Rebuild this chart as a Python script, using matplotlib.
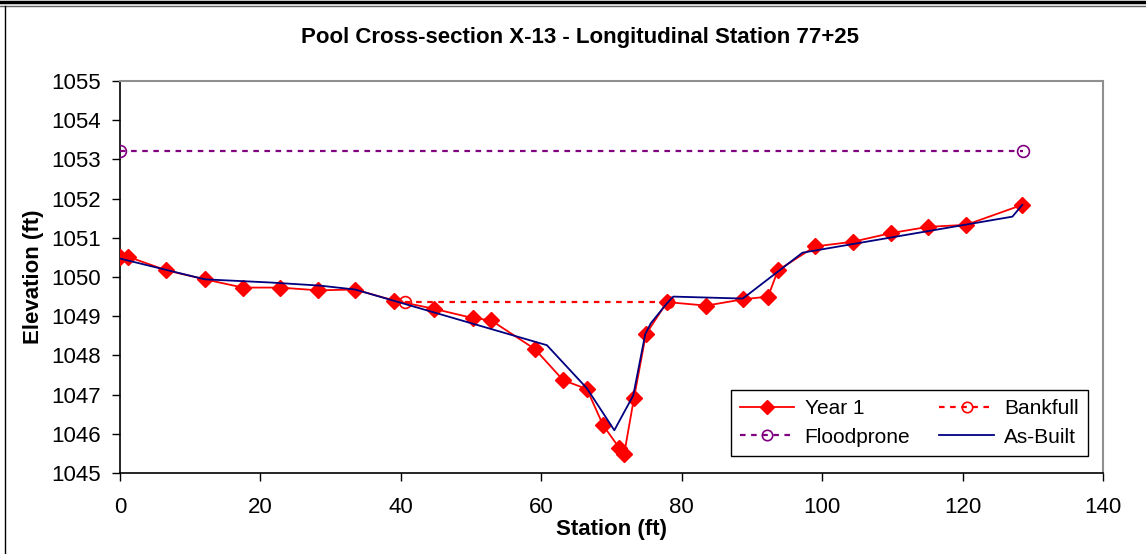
import matplotlib
matplotlib.use("Agg")
import numpy as np
from matplotlib import pyplot as plt
from matplotlib.lines import Line2D

plt.rcParams['font.family'] = ['Liberation Sans', 'DejaVu Sans']

# Year 1 survey
year1_x = [0.0, 1.1, 6.6, 12.1, 17.5, 22.8, 28.2, 33.5, 39.0, 44.7, 50.3, 52.8,
           59.1, 63.1, 66.5, 68.8, 71.1, 71.8, 73.2, 74.9, 77.9, 83.5, 88.7,
           92.3, 93.7, 99.0, 104.4, 109.8, 115.1, 120.5, 128.5]
year1_y = [1050.50, 1050.52, 1050.17, 1049.94, 1049.73, 1049.73, 1049.66, 1049.68,
           1049.40, 1049.19, 1048.95, 1048.90, 1048.16, 1047.37, 1047.14, 1046.22,
           1045.64, 1045.48, 1046.91, 1048.54, 1049.36, 1049.27, 1049.43, 1049.50,
           1050.17, 1050.78, 1050.90, 1051.12, 1051.28, 1051.33, 1051.84]

# As-built survey
asbuilt_x = [0.0, 12.1, 21.4, 28.5, 33.5, 60.8, 66.5, 70.4, 73.1, 74.8, 75.6,
             77.9, 78.8, 88.7, 97.2, 127.1, 128.5]
asbuilt_y = [1050.47, 1049.94, 1049.86, 1049.78, 1049.68, 1048.26, 1047.16,
             1046.09, 1046.98, 1048.54, 1048.82, 1049.33, 1049.50, 1049.45,
             1050.62, 1051.54, 1051.84]

bankfull_x = [40.6, 78.0]
bankfull_y = [1049.36, 1049.36]

flood_x = [0.0, 128.6]
flood_y = [1053.22, 1053.22]

x_ticks = [0, 20, 40, 60, 80, 100, 120, 140]
y_ticks = [1045, 1046, 1047, 1048, 1049, 1050, 1051, 1052, 1053, 1054, 1055]

fig = plt.figure(figsize=(11.46, 5.54), dpi=100)
ax = fig.add_axes([120 / 1146, 1 - 473 / 554, (1103 - 120) / 1146, (473 - 81) / 554])

l_year1, = ax.plot(year1_x, year1_y, color='#FF0000', lw=1.3, marker='D',
                   markersize=8, markerfacecolor='#FF0000', markeredgecolor='#FF0000',
                   zorder=4)
l_bank, = ax.plot(bankfull_x, bankfull_y, color='#FF0000', lw=1.6, ls=(0, (2.5, 2.5)),
                  marker='o', markersize=8.5, markerfacecolor='none',
                  markeredgecolor='#FF0000', markeredgewidth=1.2, zorder=3)
l_flood, = ax.plot(flood_x, flood_y, color='#800080', lw=1.6, ls=(0, (2.5, 2.5)),
                   marker='o', markersize=8.5, markerfacecolor='none',
                   markeredgecolor='#800080', markeredgewidth=1.2, zorder=3)
l_asb, = ax.plot(asbuilt_x, asbuilt_y, color='#000080', lw=1.3, zorder=5)

ax.set_xlim(0, 140)
ax.set_ylim(1045, 1055)
ax.set_xticks(x_ticks)
ax.set_yticks(y_ticks)
ax.tick_params(axis='both', direction='out', length=6, width=1, labelsize=16,
               color='black')
ax.tick_params(axis='x', pad=11)
ax.tick_params(axis='y', pad=8)

for side in ['top', 'right']:
    ax.spines[side].set_color('#909090')
    ax.spines[side].set_linewidth(1.5)
for side in ['left', 'bottom']:
    ax.spines[side].set_color('black')
    ax.spines[side].set_linewidth(1.2)

ax.set_xlabel('Station (ft)', fontsize=16, fontweight='bold', labelpad=1)
ax.set_ylabel('Elevation (ft)', fontsize=16, fontweight='bold', labelpad=5)
fig.text(580 / 1146, 1 - 38 / 554, 'Pool Cross-section X-13 - Longitudinal Station 77+25',
         ha='center', va='center', fontsize=16, fontweight='bold')

leg = ax.legend([l_year1, l_flood, l_bank, l_asb],
                ['Year 1', 'Floodprone', 'Bankfull', 'As-Built'],
                ncol=2, fontsize=15, loc='lower right',
                bbox_to_anchor=((1088 - 120) / 983, (473 - 456) / 392),
                frameon=True, fancybox=False, shadow=False, framealpha=1,
                edgecolor='black', borderpad=0.45, handlelength=2.6,
                handletextpad=0.5, columnspacing=1.4, labelspacing=0.45,
                borderaxespad=0)
leg.get_frame().set_linewidth(1.0)
for h in leg.legend_handles:
    h.set_markersize(7.5)

# outer frame of the chart area
fig.add_artist(Line2D([0, 1], [1 - 1.5 / 554, 1 - 1.5 / 554], color='black', lw=2.5,
                      transform=fig.transFigure))
fig.add_artist(Line2D([0, 1], [1 - 5.5 / 554, 1 - 5.5 / 554], color='#606060', lw=1,
                      transform=fig.transFigure))
fig.add_artist(Line2D([4.5 / 1146, 4.5 / 1146], [0, 1 - 5.5 / 554], color='black', lw=1,
                      transform=fig.transFigure))

fig.savefig('out.png', dpi=100)
